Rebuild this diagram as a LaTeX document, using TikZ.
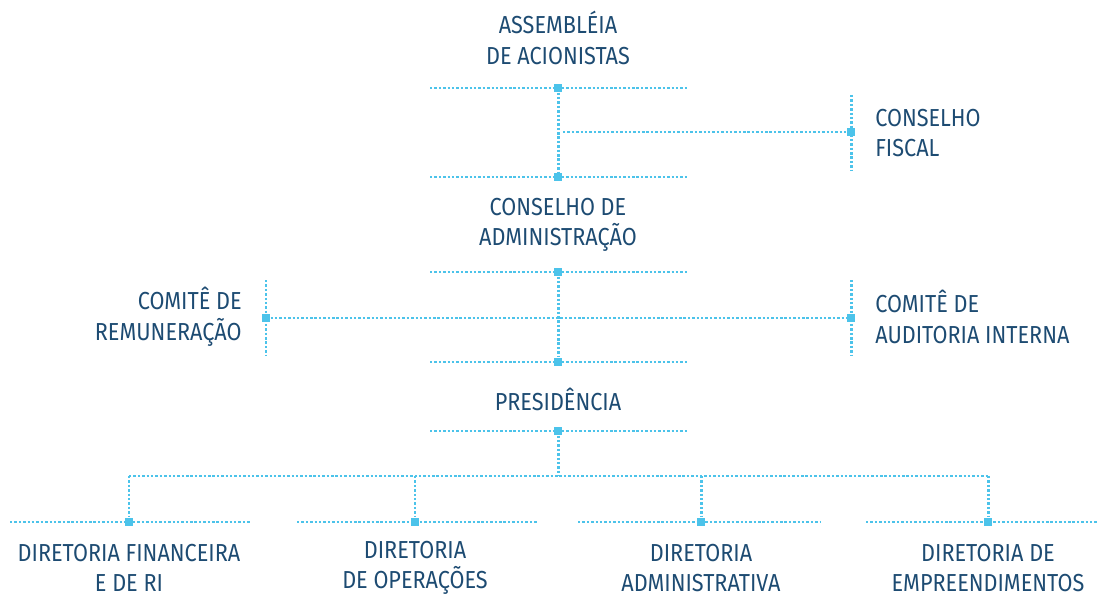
\documentclass[tikz,border=0pt]{standalone}
\usepackage{fontspec}
\setmainfont[FakeStretch=0.88]{Fira Sans}
\definecolor{textblue}{HTML}{1D4B72}
\definecolor{dotblue}{HTML}{4CC3EA}
\tikzset{
  dotline/.style={dotblue, line width=1.7pt, dash pattern=on 1.4pt off 1.1pt},
  sqr/.style={fill=dotblue, inner sep=0pt, minimum size=4.8pt, draw=none},
  lbl/.style={textblue, font=\fontsize{14}{17.4}\selectfont, inner sep=0pt, align=center},
}
\begin{document}
\begin{tikzpicture}[x=0.02cm, y=-0.02cm]
  \useasboundingbox (0,0) rectangle (1098,598);
  \pgfmathsetmacro{\xc}{558}
  \pgfmathsetmacro{\xl}{430}
  \pgfmathsetmacro{\xr}{687}
  \pgfmathsetmacro{\xside}{851}
  \pgfmathsetmacro{\xrem}{266}
  % titulos centrais
  \node[lbl] (assembleia) at (\xc,38) {ASSEMBLÉIA\\DE ACIONISTAS};
  \node[lbl] (conselhoadm) at (\xc,225) {CONSELHO DE\\ADMINISTRAÇÃO};
  \node[lbl] (presidencia) at (\xc,399) {PRESIDÊNCIA};
  \node[lbl, anchor=west, align=left] (fiscal) at (875,133) {CONSELHO\\FISCAL};
  \node[lbl, anchor=east, align=right] (remuneracao) at (242,317) {COMITÊ DE\\REMUNERAÇÃO};
  \node[lbl, anchor=west, align=left] (auditoria) at (875,317) {COMITÊ DE\\AUDITORIA INTERNA};
  % linhas horizontais centrais
  \foreach \y/\n in {88/a,177/b,272/c,362/d,431/e} {
    \coordinate (l\n) at (\xl,\y);
    \coordinate (r\n) at (\xr,\y);
    \draw[dotline] (l\n) -- (r\n);
    \node[sqr] (s\n) at (\xc,\y) {};
  }
  \draw[dotline] (sa) -- (sb);
  \draw[dotline] (sc) -- (sd);
  % conselho fiscal
  \node[sqr] (sfiscal) at (\xside,132) {};
  \coordinate (tfiscal) at (\xside,95);
  \coordinate (bfiscal) at (\xside,170);
  \coordinate (jfiscal) at (563,132);
  \draw[dotline] (tfiscal) -- (bfiscal);
  \draw[dotline] (jfiscal) -- (sfiscal);
  % comites
  \node[sqr] (srem) at (\xrem,318) {};
  \node[sqr] (saud) at (\xside,318) {};
  \foreach \n/\x in {rem/\xrem,aud/\xside} {
    \coordinate (t\n) at (\x,280);
    \coordinate (b\n) at (\x,356);
    \draw[dotline] (t\n) -- (b\n);
  }
  \draw[dotline] (srem) -- (saud);
  % diretorias
  \coordinate (jpres) at (\xc,476);
  \coordinate (jleft) at (129,476);
  \coordinate (jright) at (988,476);
  \draw[dotline] (se) -- (jpres);
  \draw[dotline] (jleft) -- (jright);
  \foreach \n/\x/\xa/\xb in {fin/129/10/250,ope/415/297/538,adm/701/578/820,emp/988/866/1098} {
    \coordinate (t\n) at (\x,476);
    \node[sqr] (s\n) at (\x,522) {};
    \coordinate (a\n) at (\xa,522);
    \coordinate (b\n) at (\xb,522);
    \draw[dotline] (a\n) -- (b\n);
    \draw[dotline] (t\n) -- (s\n);
  }
  \node[lbl] (financeira) at (129,568) {DIRETORIA FINANCEIRA\\E DE RI};
  \node[lbl] (operacoes) at (415,568) {DIRETORIA\\DE OPERAÇÕES};
  \node[lbl] (administrativa) at (701,568) {DIRETORIA\\ADMINISTRATIVA};
  \node[lbl] (empreendimentos) at (988,568) {DIRETORIA DE\\EMPREENDIMENTOS};
\end{tikzpicture}
\end{document}
